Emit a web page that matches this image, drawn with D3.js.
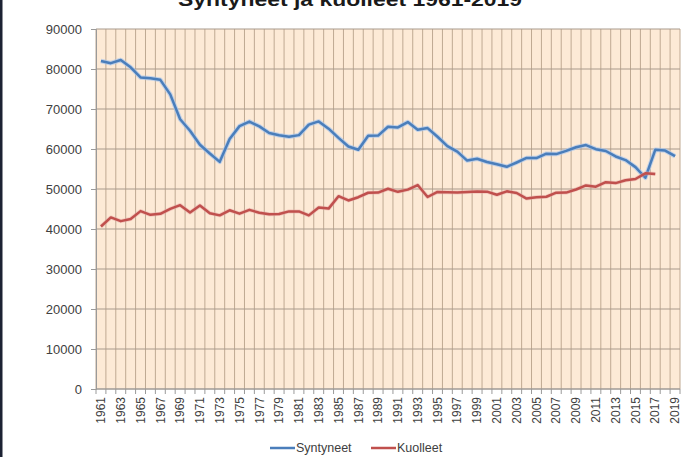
<!DOCTYPE html>
<html><head><meta charset="utf-8">
<script src="https://cdn.jsdelivr.net/npm/d3@7"></script>
<style>
html,body{margin:0;padding:0;background:#fff;}
svg{display:block;}
text{font-family:"Liberation Sans",Arial,sans-serif;}
</style></head>
<body>
<script>
const years = d3.range(1961, 2020);
const syntyneet = [81996,81454,82251,80428,77885,77697,77289,73654,67450,64559,
61067,58864,56787,62472,65719,66846,65659,63983,63428,63064,
63469,66106,66892,65076,62796,60632,59827,63316,63348,65549,
65395,66731,64826,65231,63067,60723,59329,57108,57574,56742,
56189,55555,56630,57758,57745,58840,58729,59530,60430,60980,
59961,59493,58134,57232,55472,52814,59800,59600,58200];
const kuolleet = [40616,42889,41962,42516,44473,43548,43790,45013,45966,44119,
45876,43958,43410,44676,43828,44786,44065,43692,43738,44398,
44404,43408,45388,45098,48198,47135,47949,49063,49110,50058,
49294,49844,50988,48000,49280,49167,49108,49262,49345,49339,
48550,49418,48996,47600,47928,48065,49077,49094,49883,50887,
50585,51707,51472,52186,52492,53923,53722];
const yTicks = [0,10000,20000,30000,40000,50000,60000,70000,80000,90000];
const seriesNames = ["Syntyneet","Kuolleet"];
const title = "Syntyneet ja kuolleet 1961-2019";

const W = 688, H = 457;
const svg = d3.select("body").append("svg").attr("width", W).attr("height", H);

const x = d3.scaleBand().domain(years).range([96, 680]).padding(0);
const y = d3.scaleLinear().domain([0, 90000]).range([389, 29]);
const cx = d => x(d) + x.bandwidth() / 2;

// left dark border
svg.append("rect").attr("x", 0).attr("y", 0).attr("width", 2.5).attr("height", H).attr("fill", "#1c2233");

// plot background
svg.append("rect").attr("x", x.range()[0]).attr("y", y(90000))
  .attr("width", x.range()[1] - x.range()[0]).attr("height", y(0) - y(90000))
  .attr("fill", "#fdead6");

// vertical gridlines at category boundaries
const bounds = years.map(d => x(d)).concat([x.range()[1]]);
svg.append("g").selectAll("line").data(bounds).join("line")
  .attr("x1", d => d).attr("x2", d => d)
  .attr("y1", y(90000)).attr("y2", y(0))
  .attr("stroke", "#bfa992").attr("stroke-width", 1);

// horizontal gridlines
svg.append("g").selectAll("line").data(yTicks).join("line")
  .attr("x1", x.range()[0]).attr("x2", x.range()[1])
  .attr("y1", d => y(d)).attr("y2", d => y(d))
  .attr("stroke", "#a99a8c").attr("stroke-width", 1);

// y axis
const yAxis = svg.append("g").attr("transform", `translate(${x.range()[0]},0)`)
  .call(d3.axisLeft(y).tickValues(yTicks).tickSize(5).tickPadding(9).tickFormat(d3.format("d")));
yAxis.select(".domain").attr("stroke", "#9a9a9a");
yAxis.selectAll(".tick line").attr("stroke", "#9a9a9a");
yAxis.selectAll("text").attr("fill", "#404040").style("font-size", "13px");

// x axis ticks at boundaries
svg.append("g").selectAll("line").data(bounds).join("line")
  .attr("x1", d => d).attr("x2", d => d)
  .attr("y1", y(0)).attr("y2", y(0) + 5)
  .attr("stroke", "#9a9a9a");
svg.append("line").attr("x1", x.range()[0]).attr("x2", x.range()[1])
  .attr("y1", y(0)).attr("y2", y(0)).attr("stroke", "#9a9a9a");

// x labels (every other year), rotated
const xAxis = svg.append("g").attr("transform", `translate(0,${y(0)})`)
  .call(d3.axisBottom(x).tickValues(years.filter((d, i) => i % 2 === 0)).tickSize(0).tickFormat(d3.format("d")));
xAxis.select(".domain").remove();
xAxis.selectAll("text")
  .attr("fill", "#404040").style("font-size", "12px")
  .attr("transform", "rotate(-90)")
  .attr("text-anchor", "end")
  .attr("x", -8).attr("y", 0).attr("dy", "0.35em");

// lines
const line = (vals) => d3.line().x((d, i) => cx(years[i])).y(d => y(d))(vals);
svg.append("path").attr("d", line(syntyneet)).attr("fill", "none")
  .attr("stroke", "#a9c6ec").attr("stroke-width", 4.5).attr("stroke-linejoin", "round").attr("opacity", 0.7);
svg.append("path").attr("d", line(syntyneet)).attr("fill", "none")
  .attr("stroke", "#4a7ebb").attr("stroke-width", 2.5).attr("stroke-linejoin", "round");
svg.append("path").attr("d", line(kuolleet)).attr("fill", "none")
  .attr("stroke", "#e8a8a6").attr("stroke-width", 4).attr("stroke-linejoin", "round").attr("opacity", 0.5);
svg.append("path").attr("d", line(kuolleet)).attr("fill", "none")
  .attr("stroke", "#c0504d").attr("stroke-width", 2.5).attr("stroke-linejoin", "round");

// title (partly cut off at the top, as in the reference)
svg.append("text").attr("x", 350).attr("y", 6).attr("text-anchor", "middle")
  .attr("font-weight", "bold").style("font-size", "18px").attr("fill", "#1a1a1a")
  .attr("textLength", 344).attr("lengthAdjust", "spacingAndGlyphs").text(title);

// legend
const legendItems = [
  {name: seriesNames[0], color: "#4a7ebb", x: 270},
  {name: seriesNames[1], color: "#c0504d", x: 371}
];
const lg = svg.append("g").selectAll("g").data(legendItems).join("g")
  .attr("transform", d => `translate(${d.x},448)`);
lg.append("line").attr("x1", 0).attr("x2", 25).attr("y1", 0).attr("y2", 0)
  .attr("stroke", d => d.color).attr("stroke-width", 2.5);
lg.append("text").attr("x", 26).attr("y", 0).attr("dy", "0.35em")
  .style("font-size", "12.5px").attr("fill", "#404040").text(d => d.name);
</script>
</body></html>
